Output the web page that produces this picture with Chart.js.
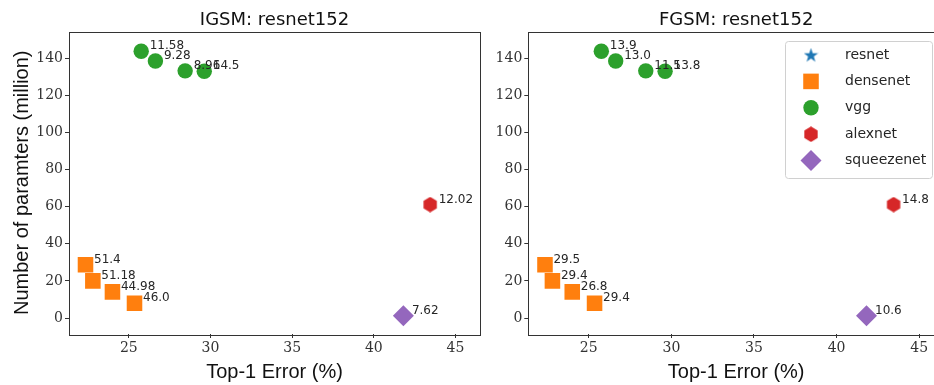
<!DOCTYPE html>
<html>
<head>
<meta charset="utf-8">
<script src="https://cdn.jsdelivr.net/npm/chart.js@4.4.0/dist/chart.umd.min.js"></script>
<style>
  html, body { margin: 0; padding: 0; background: #fff; overflow: hidden; width: 934px; height: 385px; }
  #wrap { position: relative; width: 934px; height: 385px; overflow: hidden; }
  canvas { position: absolute; top: 0; }
  #igsm { left: 0; }
  #fgsm { left: 484px; }
</style>
</head>
<body>
<div id="wrap">
  <canvas id="igsm" width="491" height="385"></canvas>
  <canvas id="fgsm" width="471" height="385"></canvas>
</div>
<script>
// ---- data (top-1 error %, params in million) ----
const models = ["resnet", "densenet", "vgg", "alexnet", "squeezenet"];

const resnetErr = [];
const resnetParams = [];
const densenetErr = [22.35, 22.8, 24.0, 25.35];
const densenetParams = [28.7, 20.0, 14.1, 8.0];
const vggErr = [25.76, 26.63, 28.45, 29.62];
const vggParams = [143.7, 138.4, 133.1, 132.9];
const alexnetErr = [43.45];
const alexnetParams = [61.1];
const squeezenetErr = [41.81];
const squeezenetParams = [1.2];

// point annotations
const igsmDensenet = ["51.4", "51.18", "44.98", "46.0"];
const igsmVgg = ["11.58", "9.28", "8.96", "14.5"];
const igsmAlexnet = ["12.02"];
const igsmSqueezenet = ["7.62"];

const fgsmDensenet = ["29.5", "29.4", "26.8", "29.4"];
const fgsmVgg = ["13.9", "13.0", "11.5", "13.8"];
const fgsmAlexnet = ["14.8"];
const fgsmSqueezenet = ["10.6"];

const xTicks = [25, 30, 35, 40, 45];
const yTicks = [0, 20, 40, 60, 80, 100, 120, 140];

// ---- marker images ----
function makeHex(size, color) {
  const c = document.createElement("canvas");
  c.width = c.height = size;
  const g = c.getContext("2d");
  const r = size / 2;
  g.fillStyle = color;
  g.beginPath();
  for (let k = 0; k < 6; k++) {
    const a = -Math.PI / 2 + k * Math.PI / 3;
    const px = r + (r - 0.3) * Math.cos(a);
    const py = r + (r - 0.3) * Math.sin(a);
    if (k === 0) g.moveTo(px, py); else g.lineTo(px, py);
  }
  g.closePath();
  g.fill();
  return c;
}

function makeStar(size, color) {
  const c = document.createElement("canvas");
  c.width = c.height = size;
  const g = c.getContext("2d");
  const r = size / 2;
  const inner = r * 0.4;
  g.fillStyle = color;
  g.beginPath();
  for (let k = 0; k < 10; k++) {
    const a = -Math.PI / 2 + k * Math.PI / 5;
    const rr = k % 2 === 0 ? r : inner;
    const px = r + rr * Math.cos(a);
    const py = r + 0.6 + rr * Math.sin(a);
    if (k === 0) g.moveTo(px, py); else g.lineTo(px, py);
  }
  g.closePath();
  g.fill();
  return c;
}

const colors = ["#1f77b4", "#ff7f0e", "#2ca02c", "#d62728", "#9467bd"];
const hexImg = makeHex(16, colors[3]);
const starImg = makeStar(15, colors[0]);

function pts(xs, ys) {
  return xs.map((x, i) => ({ x: x, y: ys[i] }));
}

function buildDatasets(lbl) {
  return [
    { label: models[0], data: pts(resnetErr, resnetParams), pointStyle: starImg, backgroundColor: colors[0], pointRadius: 7, tags: [] },
    { label: models[1], data: pts(densenetErr, densenetParams), pointStyle: "rect", backgroundColor: colors[1], pointRadius: 11, tags: lbl.densenet },
    { label: models[2], data: pts(vggErr, vggParams), pointStyle: "circle", backgroundColor: colors[2], pointRadius: 7.7, tags: lbl.vgg },
    { label: models[3], data: pts(alexnetErr, alexnetParams), pointStyle: hexImg, backgroundColor: colors[3], pointRadius: 8, tags: lbl.alexnet },
    { label: models[4], data: pts(squeezenetErr, squeezenetParams), pointStyle: "rectRot", backgroundColor: colors[4], pointRadius: 10.5, tags: lbl.squeezenet }
  ];
}

// ---- plugins ----
const framePlugin = {
  id: "frame",
  afterDatasetsDraw(chart) {
    const a = chart.chartArea;
    const ctx = chart.ctx;
    ctx.save();
    ctx.strokeStyle = "#333";
    ctx.lineWidth = 1;
    ctx.strokeRect(Math.round(a.left) + 0.5, Math.round(a.top) + 0.5, Math.round(a.right - a.left), Math.round(a.bottom - a.top));
    ctx.restore();
  }
};

const tagPlugin = {
  id: "tags",
  afterDatasetsDraw(chart) {
    const ctx = chart.ctx;
    ctx.save();
    ctx.font = '12px "DejaVu Sans"';
    ctx.fillStyle = "#262626";
    ctx.textAlign = "left";
    ctx.textBaseline = "alphabetic";
    chart.data.datasets.forEach((ds, i) => {
      const meta = chart.getDatasetMeta(i);
      meta.data.forEach((el, j) => {
        if (ds.tags && ds.tags[j]) ctx.fillText(ds.tags[j], el.x + 8.5, el.y - 2);
      });
    });
    ctx.restore();
  }
};

const titlePlugin = {
  id: "panelTitle",
  afterDraw(chart, args, opts) {
    if (!opts || !opts.text) return;
    const a = chart.chartArea;
    const ctx = chart.ctx;
    ctx.save();
    ctx.font = '18px "DejaVu Sans"';
    ctx.fillStyle = "#111";
    ctx.textAlign = "center";
    ctx.textBaseline = "alphabetic";
    ctx.fillText(opts.text, (a.left + a.right) / 2, 25);
    ctx.restore();
  }
};

const boxLegendPlugin = {
  id: "boxLegend",
  afterDraw(chart, args, opts) {
    if (!opts || !opts.show) return;
    const ctx = chart.ctx;
    const x0 = 301, y0 = 41, w = 147, h = 137;
    ctx.save();
    ctx.fillStyle = "rgba(255,255,255,0.8)";
    ctx.strokeStyle = "#d0d0d0";
    ctx.lineWidth = 1;
    ctx.beginPath();
    ctx.roundRect(x0 + 0.5, y0 + 0.5, w, h, 3);
    ctx.fill();
    ctx.stroke();
    ctx.font = '14px "DejaVu Sans"';
    ctx.textAlign = "left";
    ctx.textBaseline = "middle";
    chart.data.datasets.forEach((ds, i) => {
      const cy = y0 + 14 + i * 26.4;
      const cx = x0 + 26;
      ctx.fillStyle = ds.backgroundColor;
      Chart.helpers.drawPoint(ctx, {
        pointStyle: ds.pointStyle,
        radius: ds.pointRadius,
        rotation: 0,
        borderWidth: 0
      }, cx, cy);
      ctx.fillStyle = "#262626";
      ctx.fillText(ds.label, x0 + 60, cy);
    });
    ctx.restore();
  }
};

function makeChart(id, title, lbl, showYTitle, yAxisWidth, padRight, showLegend) {
  const tickFont = { family: "DejaVu Serif", size: 14 };
  return new Chart(document.getElementById(id), {
    type: "scatter",
    data: { datasets: buildDatasets(lbl) },
    options: {
      responsive: false,
      devicePixelRatio: 1,
      animation: false,
      layout: { padding: { top: 31.5, left: 0, right: padRight, bottom: 0 } },
      elements: { point: { borderWidth: 0, hoverRadius: 0 } },
      plugins: {
        legend: { display: false },
        tooltip: { enabled: false },
        title: { display: false },
        panelTitle: { text: title },
        boxLegend: { show: showLegend }
      },
      scales: {
        x: {
          type: "linear",
          min: 21.34,
          max: 46.5,
          afterBuildTicks: s => { s.ticks = xTicks.map(v => ({ value: v })); },
          afterFit: s => { s.height = 51; },
          grid: { display: true, drawOnChartArea: false, drawTicks: true, tickLength: 4, color: "#333" },
          border: { display: false },
          ticks: { font: tickFont, color: "#333", padding: 2, maxRotation: 0 },
          title: {
            display: true,
            text: "Top-1 Error (%)",
            font: { family: "Liberation Sans", size: 20, lineHeight: 1.2 },
            color: "#111",
            padding: { top: 0, bottom: 1 }
          }
        },
        y: {
          type: "linear",
          min: -8.6,
          max: 154.3,
          afterBuildTicks: s => { s.ticks = yTicks.map(v => ({ value: v })); },
          afterFit: s => { s.width = yAxisWidth; },
          grid: { display: true, drawOnChartArea: false, drawTicks: true, tickLength: 4, color: "#333" },
          border: { display: false },
          ticks: { font: tickFont, color: "#333", padding: 2 },
          title: {
            display: showYTitle,
            text: "Number of paramters (million)",
            font: { family: "Liberation Sans", size: 20, lineHeight: 1.2 },
            color: "#111",
            padding: { top: 10.5, bottom: 0 }
          }
        }
      }
    },
    plugins: [framePlugin, tagPlugin, titlePlugin, boxLegendPlugin]
  });
}

makeChart("igsm", "IGSM: resnet152",
  { densenet: igsmDensenet, vgg: igsmVgg, alexnet: igsmAlexnet, squeezenet: igsmSqueezenet },
  true, 69, 2.3, false);

makeChart("fgsm", "FGSM: resnet152",
  { densenet: fgsmDensenet, vgg: fgsmVgg, alexnet: fgsmAlexnet, squeezenet: fgsmSqueezenet },
  false, 44.3, 8, true);
</script>
</body>
</html>
